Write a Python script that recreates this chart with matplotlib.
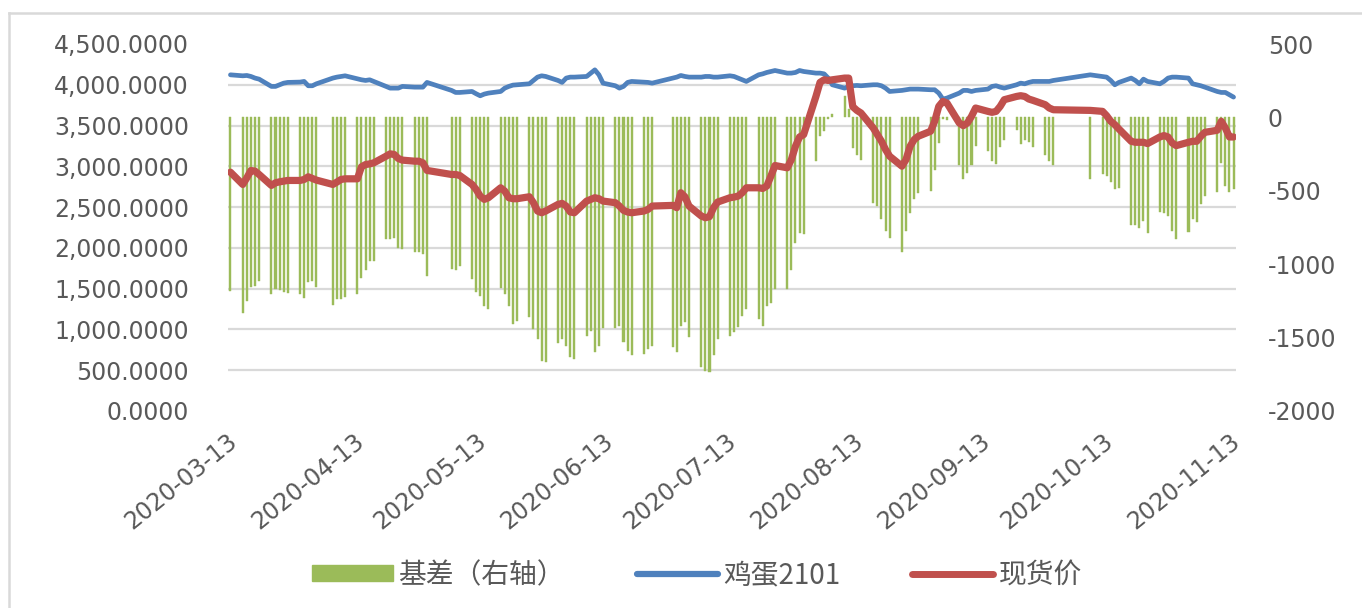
import matplotlib.pyplot as plt
import matplotlib.dates as mdates
import matplotlib.patches as mpatches
import matplotlib.transforms as mtransforms
from matplotlib.lines import Line2D
import numpy as np
import pandas as pd

# trading days 2020-03-13 .. 2020-11-13 (weekdays minus exchange holidays)
holidays = ["2020-04-06", "2020-05-01", "2020-05-04", "2020-05-05",
            "2020-06-25", "2020-06-26", "2020-10-01", "2020-10-02",
            "2020-10-05", "2020-10-06", "2020-10-07", "2020-10-08"]
dates = pd.bdate_range("2020-03-13", "2020-11-13")
dates = dates[~dates.isin(pd.to_datetime(holidays))]

# 鸡蛋2101 futures (left axis)
futures = (
    [4122, 4110, 4114, 4102, 4082, 4069, 3980, 3980, 4000, 4020, 4029, 4033, 4041]
    + [3988, 3988, 4012, 4082, 4094, 4102, 4110, 4073, 4061, 4053, 4061, 4041, 3980,
       3959, 3959, 3959, 3980, 3971, 3971, 3971, 4029]
    + [3931, 3906, 3906, 3918, 3890, 3865, 3886, 3898, 3918, 3959, 3980, 3996, 4000,
       4012, 4053, 4094, 4110, 4102]
    + [4053, 4029, 4082, 4094, 4094, 4102, 4143, 4183, 4122, 4020, 3988, 3959, 3980,
       4029, 4041, 4033, 4029, 4020, 4082, 4094]
    + [4114, 4102, 4094, 4094, 4102, 4102, 4094, 4094, 4110, 4102, 4082, 4061, 4041,
       4122, 4134, 4151, 4163, 4175, 4143, 4143, 4151, 4175, 4163]
    + [4143, 4143, 4134, 4082, 4000, 3959, 3980, 3988, 3992, 3988, 4000, 4000, 3988,
       3959, 3918, 3931, 3939, 3947, 3947, 3947, 3939]
    + [3939, 3898, 3825, 3837, 3898, 3931, 3931, 3918, 3931, 3947, 3980, 3988, 3971,
       3959, 4000, 4020, 4012, 4029, 4041, 4041, 4041, 4053]
    + [4122, 4102, 4094, 4053, 4000, 4029, 4082, 4053, 4012, 4069, 4041, 4012, 4041,
       4082, 4094, 4094]
    + [4082, 4012, 4000, 3988, 3971, 3918, 3906, 3906, 3878, 3849]
)

# 现货价 spot price (left axis)
spot = (
    [2928, 2778, 2859, 2949, 2941, 2900, 2766, 2798, 2810, 2818, 2827, 2827, 2839]
    + [2872, 2851, 2831, 2778, 2807, 2839, 2847, 2847, 2994, 3022, 3030, 3043, 3124,
       3153, 3145, 3096, 3076, 3063, 3063, 3043, 2950]
    + [2900, 2900, 2888, 2778, 2717, 2635, 2595, 2615, 2737, 2696, 2615, 2603, 2603,
       2627, 2554, 2452, 2431, 2452]
    + [2533, 2546, 2513, 2440, 2431, 2574, 2595, 2615, 2603, 2574, 2554, 2513, 2460,
       2440, 2431, 2452, 2472, 2513, 2521, 2493]
    + [2676, 2627, 2513, 2391, 2370, 2383, 2493, 2562, 2615, 2623, 2635, 2676, 2737,
       2737, 2729, 2758, 2880, 3010, 2982, 3083, 3246, 3360, 3389]
    + [3857, 4029, 4061, 4053, 4061, 4082, 4082, 3731, 3686, 3654, 3470, 3389, 3308,
       3206, 3124, 3002, 3083, 3246, 3328, 3369, 3430]
    + [3552, 3735, 3796, 3776, 3532, 3499, 3532, 3613, 3715, 3674, 3662, 3674, 3735,
       3817, 3857, 3866, 3857, 3825, 3809, 3756, 3715, 3694]
    + [3686, 3674, 3621, 3552, 3511, 3458, 3307, 3295, 3295, 3295, 3279, 3360, 3377,
       3360, 3287, 3254]
    + [3295, 3307, 3307, 3368, 3417, 3442, 3552, 3470, 3360, 3360]
)

# 基差 basis (right axis)
basis = (
    [-1182, -1330, -1250, -1155, -1148, -1114, -1204, -1170, -1175, -1186, -1193,
     -1204, -1227]
    + [-1121, -1114, -1155, -1277, -1238, -1234, -1223, -1204, -1091, -1041, -978,
       -978, -826, -826, -820, -887, -894, -917, -917, -933, -1078]
    + [-1035, -1041, -1012, -1103, -1186, -1220, -1284, -1302, -1159, -1204, -1284,
       -1404, -1386, -1363, -1442, -1510, -1657, -1664]
    + [-1540, -1510, -1555, -1635, -1646, -1487, -1453, -1596, -1555, -1438, -1433,
       -1420, -1533, -1589, -1619, -1612, -1578, -1555, -1567, -1596]
    + [-1420, -1397, -1499, -1703, -1725, -1736, -1619, -1510, -1492, -1465, -1431,
       -1352, -1302, -1374, -1420, -1284, -1261, -1166, -1170, -1039, -858, -786, -797]
    + [-299, -129, -95, -10, 25, 143, 60, -208, -254, -288, -582, -604, -695, -774,
       -820, -917, -774, -654, -559, -518, -503]
    + [-355, -174, -10, -15, -321, -419, -378, -321, -192, -231, -299, -317, -201,
       -156, -84, -179, -152, -170, -201, -254, -299, -321]
    + [-419, -383, -401, -441, -491, -480, -736, -736, -752, -706, -790, -645, -654,
       -672, -774, -831]
    + [-781, -690, -711, -593, -537, -509, -310, -464, -509, -491]
)

assert len(dates) == len(futures) == len(spot) == len(basis)

tick_dates = pd.to_datetime(["2020-03-13", "2020-04-13", "2020-05-13", "2020-06-13",
                             "2020-07-13", "2020-08-13", "2020-09-13", "2020-10-13",
                             "2020-11-13"])
left_ticks = np.arange(0, 4501, 500)
right_ticks = np.arange(-2000, 501, 500)

GREEN = "#9BBB59"
BLUE = "#4F81BD"
RED = "#C0504D"
GRID = "#D9D9D9"
TXT = "#595959"

fig = plt.figure(figsize=(13.62, 6.08), dpi=100)
ax2 = fig.add_axes([228 / 1362, 1 - 411 / 608, 1008 / 1362, 367 / 608])
ax = ax2.twinx()  # lines on top
ax.yaxis.tick_left()
ax2.yaxis.tick_right()

x = mdates.date2num(dates)

# bars: basis on right axis
ax2.bar(x, basis, width=0.5, color=GREEN, edgecolor=GREEN, lw=0.3, zorder=2)
ax2.set_ylim(-2000, 500)
ax2.set_yticks(right_ticks)
ax2.set_yticklabels([str(v) for v in right_ticks])

# grid follows left-axis ticks, drawn under the bars
to_right = lambda v: (v - 3600) / 1.8
ax2.set_yticks(to_right(left_ticks), minor=True)
ax2.grid(which="minor", axis="y", color=GRID, lw=1.6, zorder=0)
ax2.set_axisbelow(True)

ax.plot(x, futures, color=BLUE, lw=3.4, solid_capstyle="round", solid_joinstyle="round")
ax.plot(x, spot, color=RED, lw=5.2, solid_capstyle="round", solid_joinstyle="round")
ax.set_ylim(0, 4500)
ax.set_yticks(left_ticks)
ax.set_yticklabels(["{:,.4f}".format(v) for v in left_ticks])

ax2.set_xlim(x[0] - 0.6, x[-1] + 0.6)
ax2.set_xticks(mdates.date2num(tick_dates))
ax2.set_xticklabels([d.strftime("%Y-%m-%d") for d in tick_dates])

for a in (ax, ax2):
    for s in a.spines.values():
        s.set_visible(False)
    a.patch.set_visible(False)

ax.tick_params(axis="y", which="both", length=0, labelsize=17, labelcolor=TXT, pad=28,
               left=False, right=False, labelleft=True, labelright=False)
ax2.tick_params(axis="y", which="both", length=0, labelsize=17, labelcolor=TXT, pad=23,
                left=False, right=False, labelleft=False, labelright=True)
ax2.tick_params(axis="x", length=0, labelsize=17, labelcolor=TXT, pad=13)
offset = mtransforms.ScaledTranslation(-4 / 100, 0, fig.dpi_scale_trans)
for lab in ax2.get_xticklabels():
    lab.set_rotation(39)
    lab.set_ha("right")
    lab.set_va("top")
    lab.set_rotation_mode("anchor")
    lab.set_transform(lab.get_transform() + offset)

# legend
handles = [mpatches.Patch(color=GREEN),
           Line2D([0], [0], color=BLUE, lw=4.5, solid_capstyle="round"),
           Line2D([0], [0], color=RED, lw=5, solid_capstyle="round")]
labels = ["基差（右轴）", "鸡蛋2101", "现货价"]
leg = fig.legend(handles, labels, loc="center", bbox_to_anchor=(697 / 1362, 1 - 575 / 608),
                 ncol=3, frameon=False, handlelength=2.9, handleheight=0.5,
                 handletextpad=0.2, columnspacing=2.6,
                 prop={"family": ["Noto Sans CJK SC", "DejaVu Sans"], "size": 20})
for t in leg.get_texts():
    t.set_color(TXT)

# light chart-area border
fig.add_artist(Line2D([9 / 1362, 9 / 1362], [0, 1 - 13 / 608], color=GRID, lw=1.8))
fig.add_artist(Line2D([9 / 1362, 1], [1 - 13 / 608, 1 - 13 / 608], color=GRID, lw=1.8))

fig.savefig("out.png", dpi=100)
